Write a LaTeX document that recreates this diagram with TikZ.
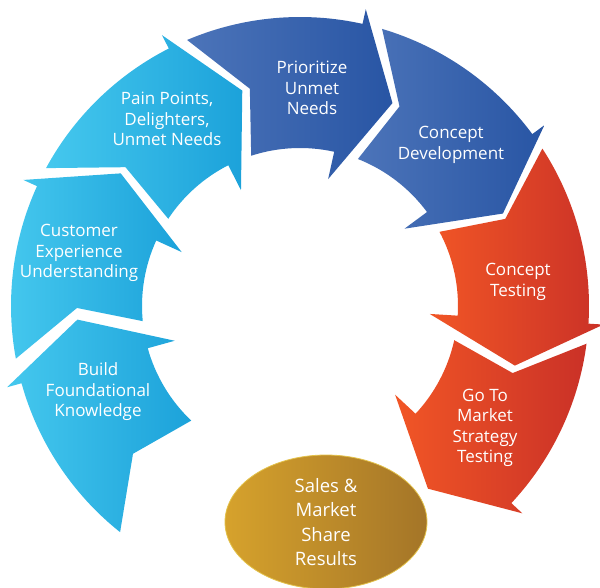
\documentclass[tikz,border=0pt]{standalone}
\usepackage{fontspec}
\setsansfont{Open Sans}
\usetikzlibrary{shapes.geometric}
\definecolor{skyleft}{HTML}{45C8EE}
\definecolor{skyright}{HTML}{1CA2DA}
\definecolor{navyleft}{HTML}{4C74B9}
\definecolor{navyright}{HTML}{2855A4}
\definecolor{fireleft}{HTML}{F15626}
\definecolor{fireright}{HTML}{CA3127}
\definecolor{goldleft}{HTML}{D6A22C}
\definecolor{goldright}{HTML}{A47528}
\definecolor{goldedge}{HTML}{E3C24A}
\tikzset{
  steptext/.style={text=white, align=center, inner sep=0, font=\sffamily\fontsize{17}{20.5}\selectfont},
  resultbox/.style={ellipse, draw=goldedge, line width=0.8pt, left color=goldleft, right color=goldright,
    minimum width=202pt, minimum height=134pt, inner sep=0, text=white, align=center,
    font=\sffamily\fontsize{18.5}{24.5}\selectfont}
}
% one ring segment: tail angle, head angle, left colour, right colour
\newcommand{\cyclearrow}[4]{%
  \path[left color=#3, right color=#4]
    (#1:289pt) arc[start angle=#1, end angle=#2, radius=289pt]
    -- (#2:304pt) -- (#2-12:223pt) -- (#2:130pt) -- (#2:158pt)
    arc[start angle=#2, end angle=#1-5, radius=158pt]
    -- (#1-10:223pt) -- cycle;
}

\begin{document}
\begin{tikzpicture}[x=1pt, y=1pt]
  \useasboundingbox (0,0) rectangle (600,-587);

  \begin{scope}[shift={(300,-306)}]
    \cyclearrow{231.5}{195.5}{skyleft}{skyright}
    \cyclearrow{190.5}{155.5}{skyleft}{skyright}
    \cyclearrow{151.5}{117}{skyleft}{skyright}
    \cyclearrow{113}{77.5}{navyleft}{navyright}
    \cyclearrow{73.5}{36.5}{navyleft}{navyright}
    \cyclearrow{33}{-3.5}{fireleft}{fireright}
    \cyclearrow{-7.5}{-43}{fireleft}{fireright}
  \end{scope}

  \node[steptext] (build) at (98,-392) {Build\\Foundational\\Knowledge};
  \node[steptext] (experience) at (79,-253) {Customer\\Experience\\Understanding};
  \node[steptext] (pain) at (167,-119) {Pain Points,\\Delighters,\\Unmet Needs};
  \node[steptext] (prioritize) at (312,-88) {Prioritize\\Unmet\\Needs};
  \node[steptext] (development) at (451,-145) {Concept\\Development};
  \node[steptext] (testing) at (518,-282) {Concept\\Testing};
  \node[steptext] (market) at (485,-428) {Go To\\Market\\Strategy\\Testing};

  \node[resultbox] (results) at (326,-522) {Sales \&\\Market\\Share\\Results};
\end{tikzpicture}
\end{document}
